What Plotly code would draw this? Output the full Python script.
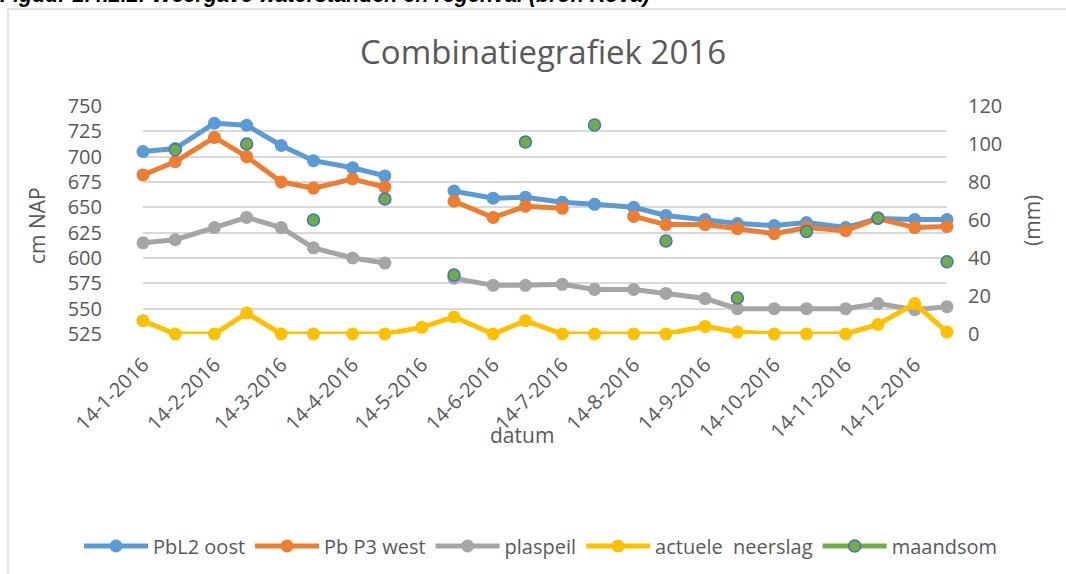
import plotly.graph_objects as go

# ---- data ----
dates = ["2016-01-14", "2016-01-28", "2016-02-14", "2016-02-28", "2016-03-14", "2016-03-28",
         "2016-04-14", "2016-04-28", "2016-05-14", "2016-05-28", "2016-06-14", "2016-06-28",
         "2016-07-14", "2016-07-28", "2016-08-14", "2016-08-28", "2016-09-14", "2016-09-28",
         "2016-10-14", "2016-10-28", "2016-11-14", "2016-11-28", "2016-12-14", "2016-12-28"]

pbl2_oost = [705, 708, 733, 731, 711, 696, 689, 681, None, 666, 659, 660,
             655, 653, 650, 642, 638, 634, 632, 635, 630, 639, 638, 638]
pb_p3_west = [682, 695, 719, 700, 675, 669, 678, 670, None, 656, 640, 651,
              649, None, 641, 633, 633, 629, 624, 630, 627, 639, 630, 631]
plaspeil = [615, 618, 630, 640, 630, 610, 600, 595, None, 580, 573, 573,
            574, 569, 569, 565, 560, 550, 550, 550, 550, 555, 549, 552]
actuele_neerslag = [7, 0, 0, 11, 0, 0, 0, 0, 3.5, 9, 0, 7,
                    0, 0, 0, 0, 4, 1, 0, 0, 0, 5, 16, 1]
maandsom = [None, 97, None, 100, None, 60, None, 71, None, 31, None, 101,
            None, 110, None, 49, None, 19, None, 54, None, 61, None, 38]

tick_dates = ["2016-01-14", "2016-02-14", "2016-03-14", "2016-04-14", "2016-05-14", "2016-06-14",
              "2016-07-14", "2016-08-14", "2016-09-14", "2016-10-14", "2016-11-14", "2016-12-14"]
tick_labels = ["14-1-2016", "14-2-2016", "14-3-2016", "14-4-2016", "14-5-2016", "14-6-2016",
               "14-7-2016", "14-8-2016", "14-9-2016", "14-10-2016", "14-11-2016", "14-12-2016"]

FONT = "Open Sans"
TXT = "#595959"

# pixel layout helpers
W, H = 1066, 574
L, R, T, B = 143, 947, 106, 334
def px(x):
    return (x - L) / (R - L)
def py(y):
    return (B - y) / (B - T)

fig = go.Figure()

def line_trace(name, y, color, axis="y"):
    return go.Scatter(x=dates, y=y, name=name, mode="lines+markers", yaxis=axis,
                      line=dict(color=color, width=5), connectgaps=False,
                      marker=dict(color=color, size=13), cliponaxis=False)

fig.add_trace(line_trace("PbL2 oost", pbl2_oost, "#5B9BD5"))
fig.add_trace(line_trace("Pb P3 west", pb_p3_west, "#ED7D31"))
fig.add_trace(line_trace("plaspeil", plaspeil, "#A5A5A5"))
fig.add_trace(line_trace("actuele  neerslag", actuele_neerslag, "#FFC000", "y2"))
fig.add_trace(go.Scatter(x=dates, y=maandsom, name="maandsom", mode="lines+markers", yaxis="y2",
                         line=dict(color="#70AD47", width=5), connectgaps=False,
                         marker=dict(color="#70AD47", size=12, line=dict(color="#4472C4", width=1.5)),
                         cliponaxis=False))

fig.update_layout(
    width=W, height=H,
    margin=dict(l=L, r=W - R, t=T, b=H - B, autoexpand=False),
    paper_bgcolor="white", plot_bgcolor="white",
    font=dict(family=FONT, color=TXT, size=20),
    title=dict(text="Combinatiegrafiek 2016", x=px(543), xref="paper", xanchor="center",
               y=1 - 52 / H, yref="container", yanchor="middle",
               font=dict(family=FONT, size=33, color=TXT)),
    xaxis=dict(type="date", range=[dates[0], dates[-1]], tickvals=tick_dates, ticktext=tick_labels,
               tickangle=-45, tickfont=dict(size=20, color=TXT), showgrid=False, zeroline=False,
               showline=False, ticks="", ticklabelstandoff=14),
    yaxis=dict(range=[525, 750], tick0=525, dtick=25, gridcolor="#D9D9D9", gridwidth=1.5,
               zeroline=False, showline=False, tickfont=dict(size=20, color=TXT), ticklabelstandoff=40),
    yaxis2=dict(range=[0, 120], tick0=0, dtick=20, overlaying="y", side="right", showgrid=False,
                zeroline=False, showline=False, tickfont=dict(size=20, color=TXT), ticklabelstandoff=20),
    showlegend=True,
    legend=dict(orientation="h", xref="paper", yref="paper", x=px(79), xanchor="left",
                y=py(546), yanchor="middle",
                font=dict(size=20, color=TXT), itemwidth=64, bgcolor="rgba(0,0,0,0)"),
    annotations=[
        dict(text="cm NAP", x=px(37), y=py(225), xref="paper", yref="paper", showarrow=False,
             textangle=-90, font=dict(size=21, color=TXT), xanchor="center", yanchor="middle"),
        dict(text="(mm)", x=px(1032), y=py(221), xref="paper", yref="paper", showarrow=False,
             textangle=-90, font=dict(size=21, color=TXT), xanchor="center", yanchor="middle"),
        dict(text="datum", x=px(522), y=py(435), xref="paper", yref="paper", showarrow=False,
             font=dict(size=21, color=TXT), xanchor="center", yanchor="middle"),
        dict(text="<b><i>Figuur 2.4.2.2: Weergave waterstanden en regenval (bron Rova)</i></b>",
             x=px(-2), y=py(-5), xref="paper", yref="paper", showarrow=False,
             font=dict(size=21.5, color="black", family="Liberation Sans"), xanchor="left", yanchor="middle"),
    ],
    shapes=[
        dict(type="line", xref="paper", yref="paper", x0=px(8), x1=px(8), y0=py(600), y1=py(9),
             line=dict(color="#D9D9D9", width=1.5)),
        dict(type="line", xref="paper", yref="paper", x0=px(8), x1=px(1080), y0=py(9), y1=py(9),
             line=dict(color="#D9D9D9", width=1.5)),
    ],
)

fig.write_html("out.html", config={"displayModeBar": False},
               post_script="document.body.style.margin='0';document.body.style.overflow='hidden';")
